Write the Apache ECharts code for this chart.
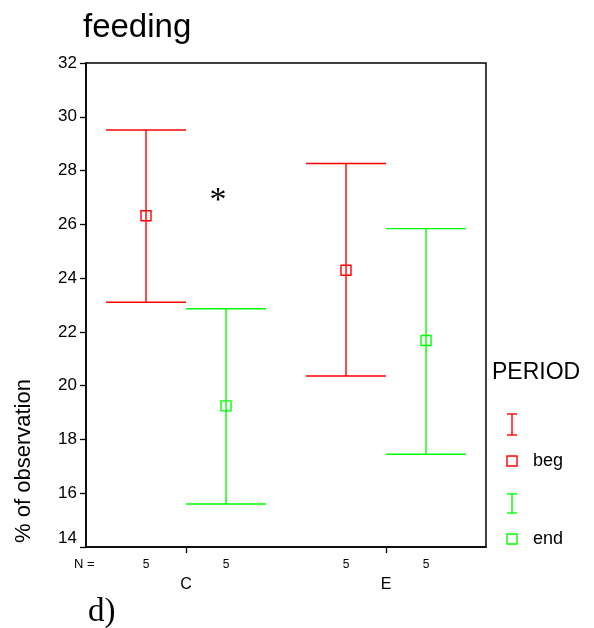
<!DOCTYPE html>
<html>
<head>
<meta charset="utf-8">
<script src="https://cdn.jsdelivr.net/npm/echarts@6/dist/echarts.min.js"></script>
<style>
html,body{margin:0;padding:0;background:#fff;}
#chart{width:594px;height:628px;}
</style>
</head>
<body>
<div id="chart"></div>
<script>
// ---- data ----
const categories = ['C', 'E'];
const periods = ['beg', 'end'];
// lower bound, mean, upper bound (95% CI) per category
const begLow  = [23.1, 20.36];
const begMean = [26.32, 24.29];
const begHigh = [29.51, 28.26];
const endLow  = [15.6, 17.45];
const endMean = [19.25, 21.68];
const endHigh = [22.86, 25.84];
const begN = [5, 5];
const endN = [5, 5];
const yTicks = [14, 16, 18, 20, 22, 24, 26, 28, 30, 32];

const FONT = '"Liberation Sans", Arial, sans-serif';
const SERIF = '"Liberation Serif", "Times New Roman", serif';
const RED = '#ff0000';
const GREEN = '#00ff00';

function makeData(low, mean, high, n) {
  return categories.map((c, i) => [i, low[i], mean[i], high[i], n[i]]);
}

function makeRender(offsetFrac, color) {
  return function (params, api) {
    const bandW = api.size([1, 0])[0];
    const off = offsetFrac * bandW;
    const half = 0.2 * bandW;
    const pLow = api.coord([api.value(0), api.value(1)]);
    const pMean = api.coord([api.value(0), api.value(2)]);
    const pHigh = api.coord([api.value(0), api.value(3)]);
    const pBase = api.coord([api.value(0), yTicks[0]]);
    const x = pMean[0] + off;
    const ls = { stroke: color, lineWidth: 1.4 };
    return {
      type: 'group',
      children: [
        { type: 'line', shape: { x1: x, y1: pLow[1], x2: x, y2: pHigh[1] }, style: ls },
        { type: 'line', shape: { x1: x - half, y1: pLow[1], x2: x + half, y2: pLow[1] }, style: ls },
        { type: 'line', shape: { x1: x - half, y1: pHigh[1], x2: x + half, y2: pHigh[1] }, style: ls },
        { type: 'rect', shape: { x: x - 5, y: pMean[1] - 5, width: 10, height: 10 },
          style: { fill: 'none', stroke: color, lineWidth: 1.4 } },
        { type: 'text', x: x, y: pBase[1] + 18,
          style: { text: String(api.value(4)), fill: '#000', font: '12px ' + FONT,
                   align: 'center', verticalAlign: 'middle' } }
      ]
    };
  };
}

const chart = echarts.init(document.getElementById('chart'), null, { renderer: 'canvas' });

const option = {
  backgroundColor: '#fff',
  animation: false,
  title: {
    text: 'feeding', left: 78, top: 6,
    textStyle: { fontFamily: FONT, fontSize: 33, fontWeight: 'normal', color: '#000' }
  },
  grid: {
    left: 86, right: 108, top: 63, bottom: 81,
    show: true, borderColor: '#000', borderWidth: 1.5, backgroundColor: 'transparent'
  },
  xAxis: {
    type: 'category',
    data: categories,
    axisLine: { show: true, lineStyle: { color: '#000', width: 1.5 } },
    axisTick: { show: true, alignWithLabel: true, length: 6, lineStyle: { color: '#000', width: 1.3 } },
    axisLabel: { margin: 30, fontFamily: FONT, fontSize: 16, color: '#000' },
    splitLine: { show: false }
  },
  yAxis: {
    type: 'value',
    min: yTicks[0], max: yTicks[yTicks.length - 1], interval: 2,
    axisLine: { show: true, lineStyle: { color: '#000', width: 1.5 } },
    axisTick: { show: true, length: 6, lineStyle: { color: '#000', width: 1.3 } },
    axisLabel: {
      margin: 9, fontFamily: FONT, fontSize: 17, color: '#000',
      formatter: function (v) { return v === yTicks[0] ? '{low|' + v + '}' : String(v); },
      rich: { low: { fontFamily: FONT, fontSize: 17, color: '#000', padding: [0, 0, 18, 0] } }
    },
    splitLine: { show: false }
  },
  series: [
    { name: periods[0], type: 'custom', renderItem: makeRender(-0.2, RED),
      data: makeData(begLow, begMean, begHigh, begN), clip: false, z: 5 },
    { name: periods[1], type: 'custom', renderItem: makeRender(0.2, GREEN),
      data: makeData(endLow, endMean, endHigh, endN), clip: false, z: 5 }
  ],
  graphic: [
    { type: 'text', left: 74, top: 558,
      style: { text: 'N =', font: '13px ' + FONT, fill: '#000' } },
    { type: 'text', x: 24, y: 461, rotation: Math.PI / 2,
      style: { text: '% of observation', font: '22px ' + FONT, fill: '#000',
               align: 'center', verticalAlign: 'middle' } },
    { type: 'text', x: 218, y: 201,
      style: { text: '*', font: '34px ' + SERIF, fill: '#000',
               align: 'center', verticalAlign: 'middle' } },
    { type: 'text', x: 88, y: 612,
      style: { text: 'd)', font: '33px ' + SERIF, fill: '#000',
               align: 'left', verticalAlign: 'middle' } },
    // legend
    { type: 'text', x: 492, y: 373,
      style: { text: 'PERIOD', font: '23px ' + FONT, fill: '#000', verticalAlign: 'middle' } },
    { type: 'group', children: [
      { type: 'line', shape: { x1: 512, y1: 414, x2: 512, y2: 435 }, style: { stroke: RED, lineWidth: 1.4 } },
      { type: 'line', shape: { x1: 507, y1: 414, x2: 517, y2: 414 }, style: { stroke: RED, lineWidth: 1.4 } },
      { type: 'line', shape: { x1: 507, y1: 435, x2: 517, y2: 435 }, style: { stroke: RED, lineWidth: 1.4 } },
      { type: 'rect', shape: { x: 507, y: 456, width: 10, height: 10 }, style: { fill: 'none', stroke: RED, lineWidth: 1.4 } },
      { type: 'text', x: 533, y: 461, style: { text: periods[0], font: '18px ' + FONT, fill: '#000', verticalAlign: 'middle' } },
      { type: 'line', shape: { x1: 512, y1: 494, x2: 512, y2: 513 }, style: { stroke: GREEN, lineWidth: 1.4 } },
      { type: 'line', shape: { x1: 507, y1: 494, x2: 517, y2: 494 }, style: { stroke: GREEN, lineWidth: 1.4 } },
      { type: 'line', shape: { x1: 507, y1: 513, x2: 517, y2: 513 }, style: { stroke: GREEN, lineWidth: 1.4 } },
      { type: 'rect', shape: { x: 507, y: 534, width: 10, height: 10 }, style: { fill: 'none', stroke: GREEN, lineWidth: 1.4 } },
      { type: 'text', x: 533, y: 539, style: { text: periods[1], font: '18px ' + FONT, fill: '#000', verticalAlign: 'middle' } }
    ] }
  ]
};
chart.setOption(option);
</script>
</body>
</html>
